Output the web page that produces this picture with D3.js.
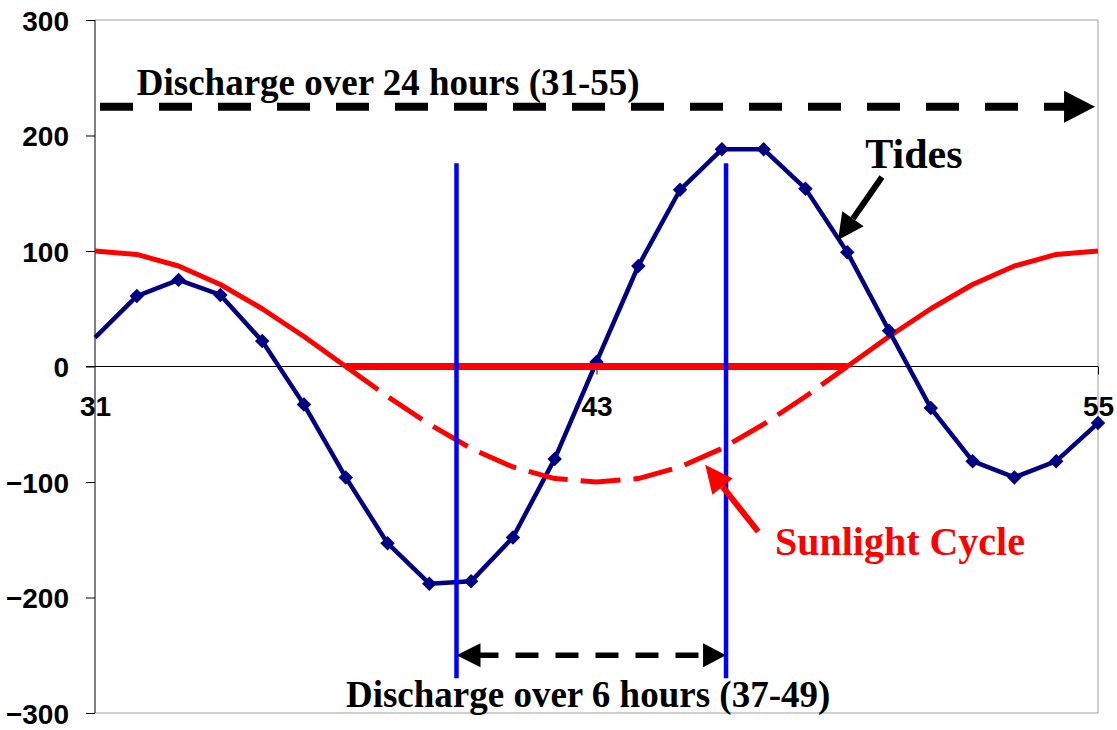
<!DOCTYPE html>
<html>
<head>
<meta charset="utf-8">
<script src="https://cdn.jsdelivr.net/npm/d3@7/dist/d3.min.js"></script>
<style>
  html, body { margin: 0; padding: 0; background: #fff; }
  svg { display: block; }
</style>
</head>
<body>
<svg id="chart" width="1117" height="730"></svg>
<script>
// ---------- data ----------
const hours = [31,32,33,34,35,36,37,38,39,40,41,42,43,44,45,46,47,48,49,50,51,52,53,54,55];
const tides = [25,61,75,62,22,-33,-96,-153,-188,-186,-148,-80,4,87,153,188,188,154,99,31,-36,-82,-96,-82,-49];
const sunlight = [100,97,87,71,50,26,0,-26,-50,-71,-87,-97,-100,-97,-87,-71,-50,-26,0,26,50,71,87,97,100];
const yTicks = [-300,-200,-100,0,100,200,300];
const xTicks = [31,43,55];
const dischargeWindow = [37,49];          // hours with sunlight below zero (thick red line / dashed part)
const verticalMarks = [39.65,46.1];       // blue vertical lines (hours)
const verticalExtent = [-270,176];        // value range of blue vertical lines
const span24 = {from:31.12, to:54.93, level:225, label:"Discharge over 24 hours (31-55)", lx:32.0, ly:235};
const span6 = {from:39.65, to:46.1, level:-250, label:"Discharge over 6 hours (37-49)", lx:42.8, ly:-295};
const tidesNote = {label:"Tides", lx:49.43, ly:172, from:[49.83,164], to:[48.78,109.5]};
const sunNote = {label:"Sunlight Cycle", lx:47.27, ly:-163, from:[46.87,-143], to:[45.6,-85]};

// ---------- layout ----------
const svg = d3.select("#chart");
const pLeft = 95, pRight = 1098, pTop = 20, pBottom = 713;
const x = d3.scaleLinear().domain([31,55]).range([pLeft,pRight]);
const y = d3.scaleLinear().domain([-300,300]).range([pBottom,pTop]);

const sans = "'Liberation Sans', Arial, sans-serif";
const serif = "'Liberation Serif', 'Times New Roman', serif";

// frame
svg.append("line").attr("x1",pLeft).attr("x2",pRight).attr("y1",pTop).attr("y2",pTop).attr("stroke","#a0a0a0").attr("stroke-width",1);
svg.append("line").attr("x1",pRight).attr("x2",pRight).attr("y1",pTop).attr("y2",pBottom).attr("stroke","#a0a0a0").attr("stroke-width",1);
svg.append("line").attr("x1",pLeft).attr("x2",pRight).attr("y1",pBottom).attr("y2",pBottom).attr("stroke","#a0a0a0").attr("stroke-width",1);

// y axis
const yAxis = svg.append("g").attr("transform",`translate(${pLeft},0)`)
  .call(d3.axisLeft(y).tickValues(yTicks).tickSize(9).tickPadding(17).tickFormat(d3.format("d")));
yAxis.select(".domain").remove();
yAxis.selectAll(".tick line").attr("stroke","#000");
yAxis.selectAll(".tick text").attr("font-family",sans).attr("font-weight","bold").attr("font-size",28).attr("fill","#000").attr("dy","0.36em");
svg.append("line").attr("x1",pLeft).attr("x2",pLeft).attr("y1",pTop).attr("y2",pBottom).attr("stroke","#000").attr("stroke-width",1);

// x axis at zero
const xAxis = svg.append("g").attr("transform",`translate(0,${y(0)})`)
  .call(d3.axisBottom(x).tickValues(xTicks).tickSize(8).tickPadding(22).tickFormat(d3.format("d")));
xAxis.select(".domain").remove();
xAxis.selectAll(".tick line").attr("stroke","#000").filter(d => d === 31).remove();
xAxis.selectAll(".tick text").attr("font-family",sans).attr("font-weight","bold").attr("font-size",28).attr("fill","#000");
svg.append("line").attr("x1",pLeft-9).attr("x2",pRight).attr("y1",y(0)).attr("y2",y(0)).attr("stroke","#000").attr("stroke-width",1);

const line = d3.line().x(d => x(d.h)).y(d => y(d.v));
const sunData = hours.map((h,i) => ({h, v: sunlight[i]}));
const tideData = hours.map((h,i) => ({h, v: tides[i]}));

// sunlight solid parts
[sunData.filter(d => d.h <= dischargeWindow[0]), sunData.filter(d => d.h >= dischargeWindow[1])].forEach(seg => {
  svg.append("path").datum(seg).attr("d",line).attr("fill","none").attr("stroke","#ff0000").attr("stroke-width",5).attr("stroke-linejoin","round");
});

// tides
svg.append("path").datum(tideData).attr("d",line).attr("fill","none").attr("stroke","#000080").attr("stroke-width",4.5).attr("stroke-linejoin","round");
svg.selectAll(".mk").data(tideData.slice(1)).enter().append("path")
  .attr("d",d3.symbol().type(d3.symbolSquare).size(105))
  .attr("transform",d => `translate(${x(d.h)},${y(d.v)}) rotate(45)`)
  .attr("fill","#000080");

// sunlight dashed part (below zero)
svg.append("path").datum(sunData.filter(d => d.h >= dischargeWindow[0] && d.h <= dischargeWindow[1]))
  .attr("d",line).attr("fill","none").attr("stroke","#ff0000").attr("stroke-width",5).attr("stroke-dasharray","40,13");

// thick red zero line
svg.append("line").attr("x1",x(dischargeWindow[0])).attr("x2",x(dischargeWindow[1])).attr("y1",y(0)).attr("y2",y(0))
  .attr("stroke","#ff0000").attr("stroke-width",7);

// blue vertical lines
verticalMarks.forEach(h => {
  svg.append("line").attr("x1",x(h)).attr("x2",x(h)).attr("y1",y(verticalExtent[1])).attr("y2",y(verticalExtent[0]))
    .attr("stroke","#0000ff").attr("stroke-width",4.5);
});

function head(tipX, tipY, fromX, fromY, len, half, color) {
  const dx = tipX - fromX, dy = tipY - fromY, L = Math.hypot(dx,dy);
  const ux = dx/L, uy = dy/L, px = -uy, py = ux;
  const bx = tipX - ux*len, by = tipY - uy*len;
  svg.append("polygon").attr("points",
    `${tipX},${tipY} ${bx+px*half},${by+py*half} ${bx-px*half},${by-py*half}`).attr("fill",color);
  return [bx,by];
}

// 24-hour span arrow
{
  const x1 = x(span24.from), x2 = x(span24.to), yy = y(span24.level);
  svg.append("line").attr("x1",x1).attr("x2",x2-30).attr("y1",yy).attr("y2",yy)
    .attr("stroke","#000").attr("stroke-width",8).attr("stroke-dasharray","33,26");
  head(x2, yy, x1, yy, 31, 16, "#000");
  svg.append("text").attr("x",x(span24.lx)).attr("y",y(span24.ly)).text(span24.label)
    .attr("font-family",serif).attr("font-weight","bold").attr("font-size",37).attr("fill","#000");
}

// 6-hour span arrow
{
  const x1 = x(span6.from), x2 = x(span6.to), yy = y(span6.level);
  svg.append("line").attr("x1",x1+19).attr("x2",x2-20).attr("y1",yy).attr("y2",yy)
    .attr("stroke","#000").attr("stroke-width",5.5).attr("stroke-dasharray","23,17");
  head(x1, yy, x2, yy, 24, 12, "#000");
  head(x2, yy, x1, yy, 23, 12, "#000");
  svg.append("text").attr("x",x(span6.lx)).attr("y",y(span6.ly)).attr("text-anchor","middle").text(span6.label)
    .attr("font-family",serif).attr("font-weight","bold").attr("font-size",37).attr("fill","#000");
}

// Tides note
{
  const fx = x(tidesNote.from[0]), fy = y(tidesNote.from[1]), tx = x(tidesNote.to[0]), ty = y(tidesNote.to[1]);
  const b = head(tx, ty, fx, fy, 26, 13, "#000");
  svg.append("line").attr("x1",fx).attr("y1",fy).attr("x2",b[0]).attr("y2",b[1]).attr("stroke","#000").attr("stroke-width",6);
  svg.append("text").attr("x",x(tidesNote.lx)).attr("y",y(tidesNote.ly)).text(tidesNote.label)
    .attr("font-family",serif).attr("font-weight","bold").attr("font-size",42).attr("fill","#000");
}

// Sunlight note
{
  const fx = x(sunNote.from[0]), fy = y(sunNote.from[1]), tx = x(sunNote.to[0]), ty = y(sunNote.to[1]);
  const b = head(tx, ty, fx, fy, 28, 13, "#ff0000");
  svg.append("line").attr("x1",fx).attr("y1",fy).attr("x2",b[0]).attr("y2",b[1]).attr("stroke","#ff0000").attr("stroke-width",6);
  svg.append("text").attr("x",x(sunNote.lx)).attr("y",y(sunNote.ly)).text(sunNote.label)
    .attr("font-family",serif).attr("font-weight","bold").attr("font-size",40).attr("fill","#ff0000");
}
</script>
</body>
</html>
